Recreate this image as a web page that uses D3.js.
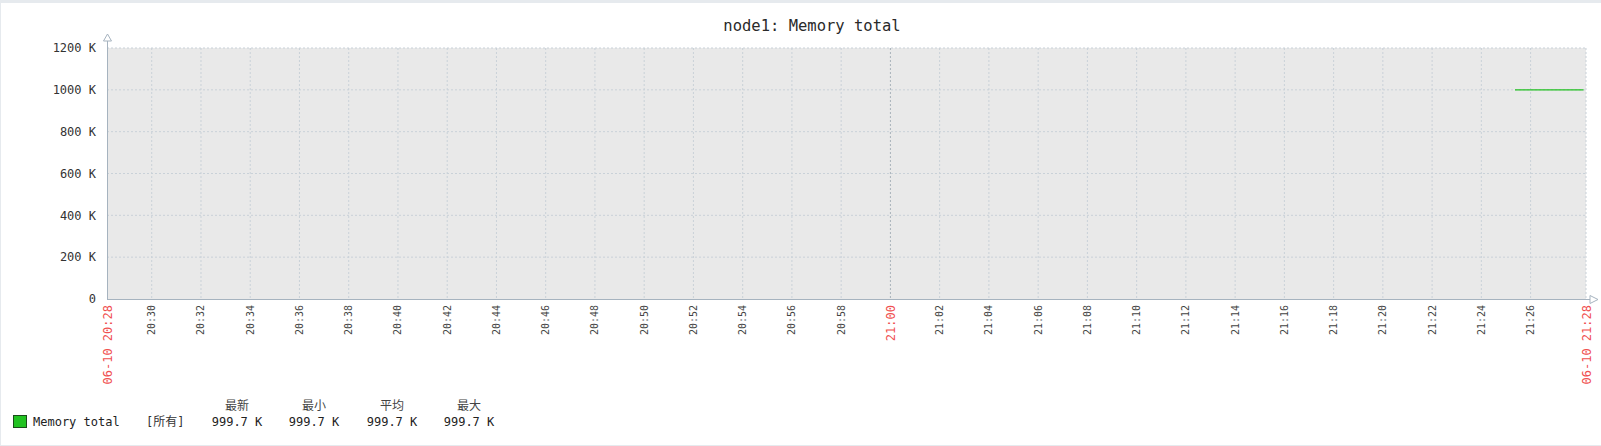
<!DOCTYPE html>
<html><head><meta charset="utf-8">
<script src="https://cdn.jsdelivr.net/npm/d3@7"></script>
<style>
html,body{margin:0;padding:0;background:#fff;}
svg{display:block;}
</style></head>
<body>
<svg id="c" width="1601" height="446"></svg>
<script>
const title = "node1: Memory total";
const timeStart = "2019-06-10 20:28:11";
const timeEnd = "2019-06-10 21:28:15";
const yTicks = [0, 200, 400, 600, 800, 1000, 1200];
const xTicks = ["20:30","20:32","20:34","20:36","20:38","20:40","20:42","20:44","20:46","20:48","20:50","20:52","20:54","20:56","20:58","21:00","21:02","21:04","21:06","21:08","21:10","21:12","21:14","21:16","21:18","21:20","21:22","21:24","21:26"];
const seriesTimes = ["2019-06-10 21:25:22","2019-06-10 21:26:22","2019-06-10 21:27:22","2019-06-10 21:28:09"];
const seriesValues = [999.7, 999.7, 999.7, 999.7];
const legendHeaders = ["最新","最小","平均","最大"];
const legendValues = ["999.7 K","999.7 K","999.7 K","999.7 K"];
const seriesName = "Memory total";

const parse = d3.timeParse("%Y-%m-%d %H:%M:%S");
const svg = d3.select("#c");
const mono = "'DejaVu Sans Mono', 'Liberation Mono', monospace";
const cjk = "'DejaVu Sans Mono', 'Noto Sans CJK SC', sans-serif";

// frame
svg.append("rect").attr("x",0).attr("y",0).attr("width",1601).attr("height",3).attr("fill","#e6eaee");
svg.append("rect").attr("x",0).attr("y",0).attr("width",1).attr("height",446).attr("fill","#e6eaee");
svg.append("rect").attr("x",0).attr("y",445).attr("width",1601).attr("height",1).attr("fill","#e6eaee");

const L = 107, R = 1586, T = 48, B = 299;
const x = d3.scaleTime().domain([parse(timeStart), parse(timeEnd)]).range([L, R]);
const y = d3.scaleLinear().domain([0, 1200]).range([B, T]);

svg.append("rect").attr("x",L).attr("y",T).attr("width",R-L).attr("height",B-T).attr("fill","#e9e9e9");

svg.append("text").attr("x",812).attr("y",31).attr("text-anchor","middle")
  .attr("font-family",mono).attr("font-size",15.5).attr("fill","#2a2a2a").text(title);

// grid horizontal
const gy = svg.append("g");
gy.selectAll("line").data(yTicks.filter(d=>d>0)).join("line")
  .attr("x1",L).attr("x2",R).attr("y1",d=>y(d)).attr("y2",d=>y(d))
  .attr("stroke","#c9d1d8").attr("stroke-dasharray","2,2");
// grid vertical
const tickDate = s => parse("2019-06-10 " + s + ":00");
const gx = svg.append("g");
gx.selectAll("line").data(xTicks).join("line")
  .attr("x1",d=>x(tickDate(d))).attr("x2",d=>x(tickDate(d))).attr("y1",T).attr("y2",B)
  .attr("stroke",d=>d==="21:00"?"#a9b2ba":"#c9d1d8").attr("stroke-dasharray","2,2");
// right edge dashed
svg.append("line").attr("x1",R).attr("x2",R).attr("y1",T).attr("y2",B)
  .attr("stroke","#c9d1d8").attr("stroke-dasharray","2,2");

// series line
const line = d3.line().x((d,i)=>x(parse(seriesTimes[i]))).y(d=>y(d));
svg.append("path").datum(seriesValues).attr("d",line).attr("fill","none")
  .attr("stroke","#1fbf1f").attr("stroke-width",1.2);

// axes
const axisC = "#a6b3bf";
svg.append("line").attr("x1",L+0.5).attr("x2",L+0.5).attr("y1",40).attr("y2",B).attr("stroke",axisC);
svg.append("line").attr("x1",L).attr("x2",1590).attr("y1",B+0.5).attr("y2",B+0.5).attr("stroke",axisC);
svg.append("path").attr("d",`M${L+0.5},34 L${L-3.5},41 L${L+4.5},41 Z`).attr("fill","#fff").attr("stroke",axisC);
svg.append("path").attr("d",`M1598,${B+0.5} L1590,${B-3.5} L1590,${B+4.5} Z`).attr("fill","#fff").attr("stroke",axisC);

// y labels
svg.append("g").selectAll("text").data(yTicks).join("text")
  .attr("x",96).attr("y",d=>y(d)).attr("dy","0.35em").attr("text-anchor","end")
  .attr("font-family",mono).attr("font-size",12).attr("fill","#333")
  .text(d=>d===0?"0":d+" K");

// x labels
svg.append("g").selectAll("text").data(xTicks).join("text")
  .attr("transform",d=>`translate(${x(tickDate(d))},305) rotate(-90)`)
  .attr("dy","0.35em").attr("text-anchor","end")
  .attr("font-family",mono).attr("font-size",10).attr("fill",d=>d==="21:00"?"#f05050":"#444")
  .attr("font-size",d=>d==="21:00"?12:10)
  .text(d=>d);
const fmt = d3.timeFormat("%m-%d %H:%M");
svg.append("g").selectAll("text").data([timeStart, timeEnd]).join("text")
  .attr("transform",d=>`translate(${x(parse(d))+1},305) rotate(-90)`)
  .attr("dy","0.35em").attr("text-anchor","end")
  .attr("font-family",mono).attr("font-size",12).attr("fill","#f05050")
  .text(d=>fmt(parse(d)));

// legend
svg.append("rect").attr("x",13.5).attr("y",415.5).attr("width",13).attr("height",12)
  .attr("fill","#22c322").attr("stroke","#1a4d1a");
svg.append("text").attr("x",33).attr("y",426).attr("font-family",mono).attr("font-size",12)
  .attr("fill","#222").text(seriesName);
svg.append("text").attr("x",146).attr("y",426).attr("font-family",cjk).attr("font-size",12)
  .attr("fill","#333").text("[所有]");
const colX = [237, 314, 392, 469];
svg.append("g").selectAll("text").data(legendHeaders).join("text")
  .attr("x",(d,i)=>colX[i]).attr("y",410).attr("text-anchor","middle")
  .attr("font-family","'Noto Sans CJK SC', sans-serif").attr("font-size",12).attr("fill","#444").text(d=>d);
svg.append("g").selectAll("text").data(legendValues).join("text")
  .attr("x",(d,i)=>colX[i]).attr("y",426).attr("text-anchor","middle")
  .attr("font-family",mono).attr("font-size",12).attr("fill","#222").text(d=>d);
</script>
</body></html>
